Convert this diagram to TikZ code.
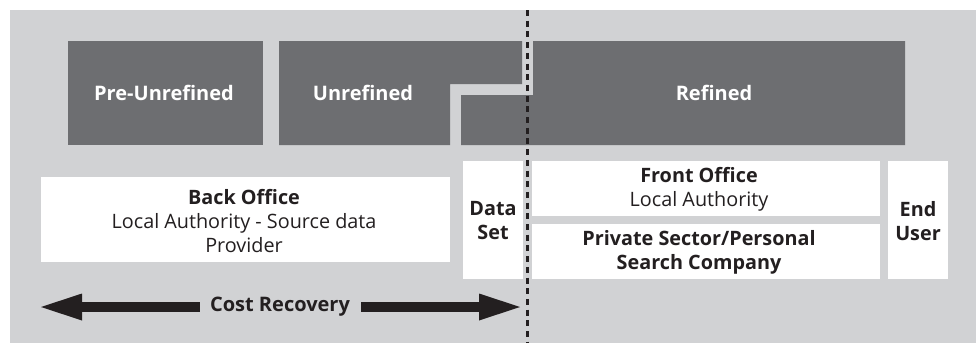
\documentclass[tikz,border=0pt]{standalone}
\usepackage{fontspec}
\setmainfont{Open Sans}
\usetikzlibrary{arrows.meta}
\definecolor{panel}{HTML}{D1D2D4}
\definecolor{blockgrey}{HTML}{6D6E71}
\definecolor{ink}{HTML}{231F20}
\tikzset{
  stage/.style={fill=blockgrey},
  stagelabel/.style={text=white, font=\fontsize{20}{24}\selectfont\bfseries, inner sep=0pt},
  rolebox/.style={fill=white},
  rolelabel/.style={text=ink, font=\fontsize{19.8}{24}\selectfont, align=center, inner sep=0pt},
  divider/.style={draw=ink, line width=3pt, dash pattern=on 6pt off 4.7pt},
  costarrow/.style={draw=ink, line width=10.5pt,
    -{Triangle[length=41pt,width=27pt,line width=0pt]}, fill=ink},
}
\begin{document}
\begin{tikzpicture}[x=1pt,y=-1pt]
\useasboundingbox (0,0) rectangle (976,343);
\fill[panel] (10,10) rectangle (976,343);

% data stages
\fill[stage] (68,41) rectangle (263,145);
\fill[stage] (279,41) -- (522,41) -- (522,84) -- (450,84) -- (450,145) -- (279,145) -- cycle;
\fill[stage] (533,41) -- (905,41) -- (905,145) -- (461,145) -- (461,95) -- (533,95) -- cycle;
\node[stagelabel] (pre) at (164,93) {Pre-Unrefined};
\node[stagelabel] (unref) at (363,93) {Unrefined};
\node[stagelabel] (ref) at (714,93) {Refined};

% roles
\fill[rolebox] (41,177) rectangle (450,262);
\fill[rolebox] (463,161) rectangle (523,279);
\fill[rolebox] (532,161) rectangle (880,216);
\fill[rolebox] (532,224) rectangle (880,279);
\fill[rolebox] (888,161) rectangle (948,279);

\node[rolelabel] (back) at (244,221) {\textbf{Back Office}\\Local Authority - Source data\\Provider};
\node[rolelabel] (dataset) at (493,221) {\textbf{Data}\\\textbf{Set}};
\node[rolelabel] (front) at (699,189) {\textbf{Front Office}\\Local Authority};
\node[rolelabel] (private) at (699,252) {\textbf{Private Sector/Personal}\\\textbf{Search Company}};
\node[rolelabel] (enduser) at (918,221) {\textbf{End}\\\textbf{User}};

% cost recovery span
\node[rolelabel, font=\fontsize{20}{24}\selectfont\bfseries] (cost) at (280,307) {Cost Recovery};
\coordinate (lefttip) at (41,307);
\coordinate (righttip) at (520,307);
\draw[costarrow] ([xshift=-10pt]cost.west) -- (lefttip);
\draw[costarrow] ([xshift=11pt]cost.east) -- (righttip);

% boundary line
\coordinate (dtop) at (527,10);
\coordinate (dbot) at (527,343);
\draw[divider] (dtop) -- (dbot);
\end{tikzpicture}
\end{document}
